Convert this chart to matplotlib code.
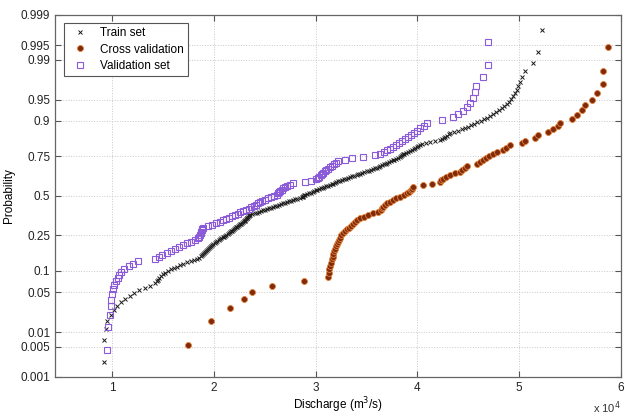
import numpy as np
import matplotlib
matplotlib.use("Agg")
import matplotlib.pyplot as plt
from statistics import NormalDist

# ---- data (discharge in units of 1e4 m^3/s, sorted) ----
train_q = [
    0.92, 0.92, 0.945, 0.955, 0.99, 1.02, 1.05, 1.09, 1.13, 1.18,
    1.22, 1.27, 1.32, 1.37, 1.42, 1.44, 1.45, 1.46, 1.48, 1.50,
    1.52, 1.55, 1.58, 1.61, 1.64, 1.67, 1.70, 1.74, 1.78, 1.81,
    1.83, 1.85, 1.87, 1.88, 1.89, 1.90, 1.91, 1.92, 1.93, 1.94,
    1.95, 1.96, 1.97, 1.98, 1.99, 2.01,
    2.02, 2.03, 2.05, 2.06, 2.07, 2.09, 2.10, 2.11, 2.12, 2.14,
    2.15, 2.16, 2.17, 2.18, 2.19, 2.20, 2.21, 2.22, 2.23, 2.24,
    2.25, 2.26, 2.27, 2.28, 2.29, 2.30, 2.31, 2.31, 2.32, 2.33,
    2.33, 2.34, 2.35, 2.35,
    2.36,
    2.38, 2.40, 2.42, 2.44, 2.46, 2.48, 2.50, 2.52, 2.54,
    2.56, 2.58, 2.60, 2.62, 2.64, 2.66, 2.68, 2.70, 2.72, 2.74,
    2.76, 2.78, 2.80, 2.82, 2.85, 2.87,
    2.88, 2.88, 2.89,
    2.90, 2.92, 2.94, 2.95, 2.97, 2.98, 3.00, 3.01, 3.03, 3.05,
    3.07, 3.08, 3.10, 3.12, 3.14, 3.16, 3.17,
    3.19, 3.20, 3.22, 3.24,
    3.26, 3.28, 3.30, 3.32, 3.34, 3.36, 3.38, 3.41,
    3.42, 3.44,
    3.46, 3.48, 3.50, 3.52, 3.54, 3.56, 3.58, 3.60, 3.62, 3.63,
    3.65, 3.67, 3.69, 3.70, 3.72, 3.74, 3.76, 3.77, 3.79, 3.81, 3.83,
    3.84, 3.85, 3.86, 3.87,
    3.89, 3.91, 3.93, 3.95, 3.97, 3.98, 4.00, 4.01, 4.03, 4.05,
    4.08, 4.12, 4.17, 4.22,
    4.24, 4.26, 4.27, 4.29, 4.31, 4.32,
    4.36, 4.40, 4.44, 4.47, 4.50, 4.53, 4.56, 4.585,
    4.62, 4.65, 4.68, 4.71,
    4.74, 4.77, 4.80, 4.83, 4.85, 4.88,
    4.90, 4.92, 4.94, 4.96, 4.98,
    4.99, 5.01, 5.03,
    5.06, 5.135, 5.185, 5.22,
]

cross_q = [
    1.75, 1.97, 2.16, 2.30, 2.375, 2.57, 2.89, 3.12, 3.13, 3.13,
    3.14, 3.15, 3.16, 3.17, 3.17, 3.18, 3.19, 3.20, 3.21, 3.22,
    3.23, 3.24, 3.25, 3.27, 3.29, 3.31, 3.33, 3.35, 3.37, 3.39,
    3.41, 3.44, 3.475, 3.51, 3.56, 3.61, 3.64, 3.65, 3.66, 3.68,
    3.70, 3.73, 3.76, 3.79, 3.83, 3.87, 3.90, 3.92, 3.94, 3.95,
    3.96, 4.055, 4.14, 4.22, 4.23, 4.25, 4.28, 4.32, 4.37, 4.42,
    4.44, 4.47, 4.49, 4.585, 4.615, 4.645, 4.67, 4.70, 4.74, 4.78,
    4.84, 4.87, 4.91, 5.03, 5.06, 5.155, 5.18, 5.28, 5.33, 5.38,
    5.40, 5.52, 5.57, 5.62, 5.65, 5.72, 5.76, 5.82, 5.82, 5.87,
]

valid_q = [
    0.95, 0.96, 0.98, 0.99, 0.995, 1.00, 1.01, 1.02, 1.035, 1.055,
    1.07, 1.09, 1.12, 1.17, 1.21, 1.26, 1.42, 1.46, 1.49, 1.54,
    1.58, 1.62, 1.66, 1.70, 1.74, 1.78, 1.82, 1.84, 1.85, 1.86,
    1.87, 1.875, 1.88, 1.885, 1.89, 1.94, 1.98, 2.02, 2.06, 2.09,
    2.12, 2.15, 2.18, 2.21, 2.24, 2.26, 2.29, 2.32, 2.35, 2.37,
    2.39, 2.41, 2.43, 2.45, 2.47, 2.50, 2.53, 2.56, 2.59, 2.62,
    2.635, 2.645, 2.655, 2.665, 2.68, 2.70, 2.72, 2.75, 2.78, 2.90,
    2.95, 3.00, 3.02, 3.035, 3.05, 3.06, 3.075, 3.09, 3.10, 3.12,
    3.14, 3.16, 3.18, 3.20, 3.22, 3.29, 3.36, 3.47, 3.58, 3.63,
    3.67, 3.70, 3.73, 3.76, 3.79, 3.82, 3.85, 3.88, 3.91, 3.94,
    3.97, 4.00, 4.03, 4.06, 4.09, 4.24, 4.35, 4.40, 4.45, 4.49,
    4.52, 4.55, 4.57, 4.58, 4.645, 4.69, 4.69,
]

series_labels = ["Train set", "Cross validation", "Validation set"]
prob_ticks = [0.001, 0.005, 0.01, 0.05, 0.1, 0.25, 0.5, 0.75, 0.9, 0.95, 0.99, 0.995, 0.999]
x_ticks = [1, 2, 3, 4, 5, 6]

# ---- normal probability scale ----
_nd = NormalDist()
_ppf = np.vectorize(lambda p: _nd.inv_cdf(p) if 0 < p < 1 else np.nan, otypes=[float])
_cdf = np.vectorize(lambda z: _nd.cdf(z), otypes=[float])


def fwd(p):
    p = np.clip(np.asarray(p, dtype=float), 1e-12, 1 - 1e-12)
    return _ppf(p)


def inv(z):
    return _cdf(np.asarray(z, dtype=float))


def positions(q):
    n = len(q)
    return (np.arange(1, n + 1) - 0.5) / n


plt.rcParams['font.family'] = ['Liberation Sans', 'DejaVu Sans']
fig = plt.figure(figsize=(6.25, 4.16), dpi=100)
ax = fig.add_axes([0.088, 0.094, 0.9056, 0.870])
ax.set_yscale('function', functions=(fwd, inv))

tr = np.array(train_q) * 1e4
cv = np.array(cross_q) * 1e4
va = np.array(valid_q) * 1e4

ax.plot(tr, positions(train_q), linestyle='none', marker='x', ms=3.4, mew=0.7,
        color='#1a1a1a', label=series_labels[0], zorder=3)
ax.plot(cv, positions(cross_q), linestyle='none', marker='o', ms=4.3, mew=0.6,
        mfc='#7f2a0c', mec='#e0813a', label=series_labels[1], zorder=3)
ax.plot(va, positions(valid_q), linestyle='none', marker='s', ms=4.8, mew=0.8,
        mfc='none', mec='#8a5ad8', label=series_labels[2], zorder=3)

ax.set_ylim(0.001, 0.999)
ax.set_xlim(0.44e4, 6.0e4)
ax.set_yticks(prob_ticks)
ax.set_yticklabels([f"{t:g}" for t in prob_ticks])
ax.minorticks_off()
ax.set_xticks([t * 1e4 for t in x_ticks])
ax.set_xticklabels([str(t) for t in x_ticks])
ax.text(1.0, -0.062, r"x 10$^4$", transform=ax.transAxes, ha='right', va='top',
        fontsize=8, color='#333333')

ax.grid(True, linestyle=':', color='#c8c8c8', linewidth=0.7)
ax.tick_params(direction='in', top=True, right=True, labelsize=8.5,
               length=4, color='#555555', labelcolor='#222222')
for s in ax.spines.values():
    s.set_color('#666666')
    s.set_linewidth(0.9)

ax.set_xlabel(r"Discharge (m$^3$/s)", fontsize=8.5, labelpad=1)
ax.set_ylabel("Probability", fontsize=8.5, labelpad=4)

leg = ax.legend(loc='upper left', bbox_to_anchor=(0.012, 0.985), fontsize=8.5,
                fancybox=False, framealpha=1, edgecolor='#555555',
                handletextpad=0.8, borderpad=0.4, labelspacing=0.35,
                handlelength=1.8, borderaxespad=0.2)
leg.get_frame().set_linewidth(0.8)

fig.savefig("out.png", dpi=100)
